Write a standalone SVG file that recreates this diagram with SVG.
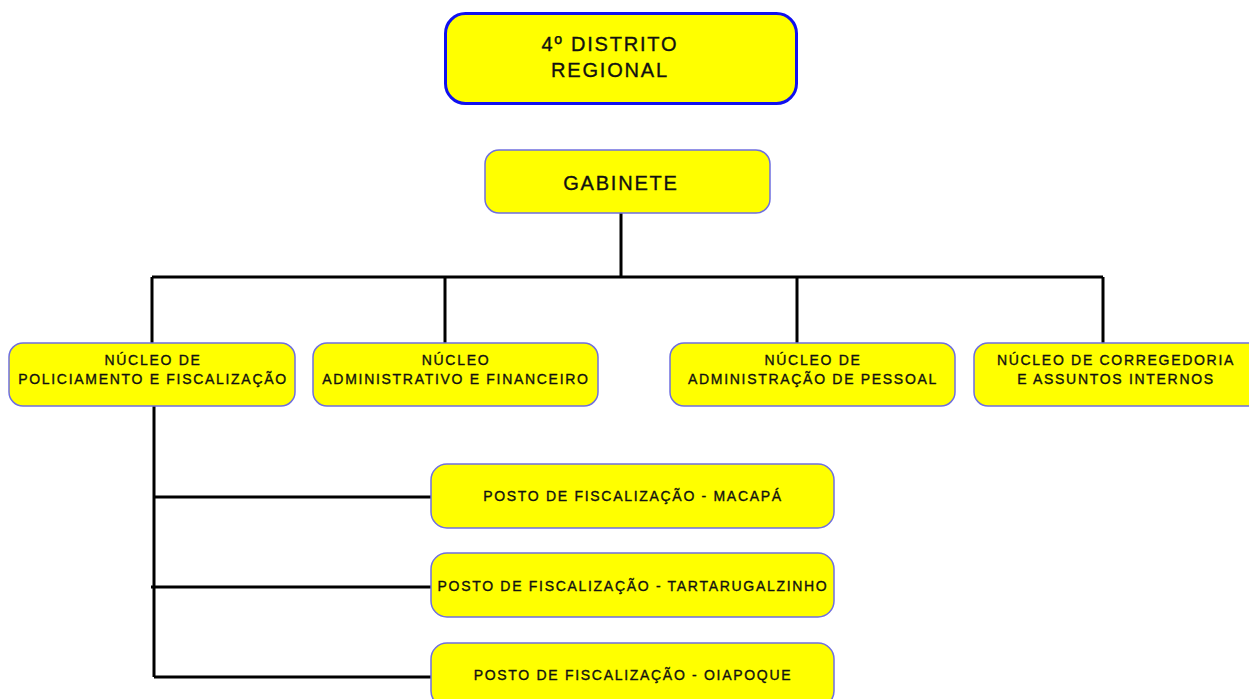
<svg xmlns="http://www.w3.org/2000/svg" width="1249" height="699" viewBox="0 0 1249 699">
<style>
.box{fill:#ffff00;stroke:#6f6fe0;stroke-width:1.5}
.top{fill:#ffff00;stroke:#1010f0;stroke-width:3}
.t{font-family:"Liberation Sans",Arial,sans-serif;fill:#111;stroke:#111;stroke-width:0.35;text-anchor:middle}
.big{font-size:20px;letter-spacing:1.8px}
.sm{font-size:14px;letter-spacing:1.7px}
.c{stroke:#000;stroke-width:3;fill:none}
</style>
<rect width="1249" height="699" fill="#fff"/>
<g id="connectors">
<path class="c" d="M621 213V277M152 277H1103M152 277V343M445 277V343M797 277V343M1103 277V343"/>
<path class="c" d="M154 406V677M154 497H433M151 587H433M154 677H433"/>
</g>
<g id="distrito">
<rect class="top" x="445.5" y="13.5" width="351" height="90" rx="20"/>
<text class="t big" x="610" y="51">4º DISTRITO</text>
<text class="t big" x="610" y="77">REGIONAL</text>
</g>
<g id="gabinete">
<rect class="box" x="485" y="150" width="285" height="63" rx="14"/>
<text class="t big" x="621" y="190">GABINETE</text>
</g>
<g id="n1">
<rect class="box" x="9" y="343" width="286" height="63" rx="14"/>
<text class="t sm" x="153" y="365">NÚCLEO DE</text>
<text class="t sm" x="153" y="384">POLICIAMENTO E FISCALIZAÇÃO</text>
</g>
<g id="n2">
<rect class="box" x="313" y="343" width="285" height="63" rx="14"/>
<text class="t sm" x="456" y="365">NÚCLEO</text>
<text class="t sm" x="456" y="384">ADMINISTRATIVO E FINANCEIRO</text>
</g>
<g id="n3">
<rect class="box" x="670" y="343" width="285" height="63" rx="14"/>
<text class="t sm" x="813" y="365">NÚCLEO DE</text>
<text class="t sm" x="813" y="384">ADMINISTRAÇÃO DE PESSOAL</text>
</g>
<g id="n4">
<rect class="box" x="974" y="343" width="290" height="63" rx="14"/>
<text class="t sm" x="1116" y="365">NÚCLEO DE CORREGEDORIA</text>
<text class="t sm" x="1116" y="384">E ASSUNTOS INTERNOS</text>
</g>
<g id="p1">
<rect class="box" x="431" y="464" width="403" height="64" rx="16"/>
<text class="t sm" x="633" y="501">POSTO DE FISCALIZAÇÃO - MACAPÁ</text>
</g>
<g id="p2">
<rect class="box" x="431" y="553" width="403" height="64" rx="16"/>
<text class="t sm" x="633" y="591">POSTO DE FISCALIZAÇÃO - TARTARUGALZINHO</text>
</g>
<g id="p3">
<rect class="box" x="431" y="643" width="403" height="64" rx="16"/>
<text class="t sm" x="633" y="680">POSTO DE FISCALIZAÇÃO - OIAPOQUE</text>
</g>
</svg>
